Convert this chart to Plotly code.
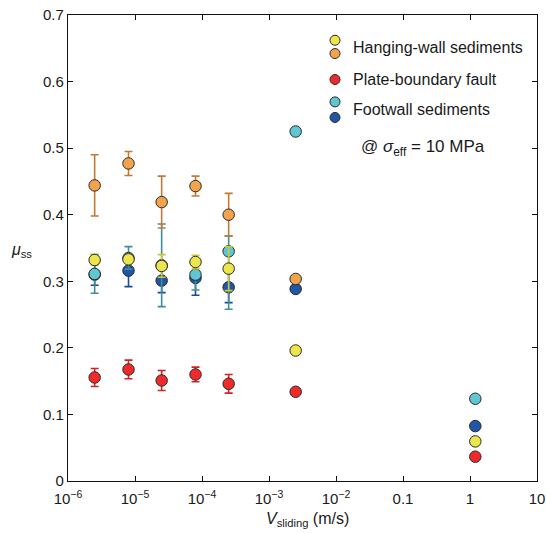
import plotly.graph_objects as go

# ---------------- data ----------------
v_low = [2.5e-6, 8e-6, 2.5e-5, 8e-5, 2.5e-4]
v_mid = 2.5e-3
v_high = 1.2

# Footwall sediments (dark blue)
fw_dark_v = v_low + [v_mid, v_high]
fw_dark_mu = [0.310, 0.316, 0.301, 0.305, 0.291, 0.2885, 0.0825]
fw_dark_ep = [0.016, 0.024, 0.018, 0.026, 0.023, 0, 0]
fw_dark_em = [0.016, 0.024, 0.018, 0.026, 0.023, 0, 0]

# Footwall sediments (light blue)
fw_light_v = v_low + [v_mid, v_high]
fw_light_mu = [0.311, 0.335, 0.324, 0.310, 0.345, 0.525, 0.1235]
fw_light_ep = [0.029, 0.017, 0.062, 0.023, 0.023, 0, 0]
fw_light_em = [0.029, 0.017, 0.062, 0.023, 0.087, 0, 0]

# Hanging-wall sediments (yellow)
hw_yel_v = v_low + [v_mid, v_high]
hw_yel_mu = [0.332, 0.333, 0.323, 0.329, 0.319, 0.196, 0.0595]
hw_yel_ep = [0.008, 0.006, 0.017, 0.010, 0.033, 0, 0]
hw_yel_em = [0.008, 0.006, 0.017, 0.010, 0.033, 0, 0]

# Hanging-wall sediments (orange)
hw_org_v = v_low + [v_mid]
hw_org_mu = [0.444, 0.477, 0.419, 0.443, 0.400, 0.3035]
hw_org_ep = [0.046, 0.018, 0.039, 0.015, 0.032, 0]
hw_org_em = [0.046, 0.018, 0.039, 0.015, 0.032, 0]

# Plate-boundary fault (red)
pbf_v = v_low + [v_mid, v_high]
pbf_mu = [0.1555, 0.1675, 0.151, 0.160, 0.146, 0.134, 0.0365]
pbf_ep = [0.0135, 0.014, 0.015, 0.011, 0.014, 0, 0]
pbf_em = [0.0135, 0.014, 0.015, 0.011, 0.014, 0, 0]

x_tickvals = [1e-6, 1e-5, 1e-4, 1e-3, 1e-2, 0.1, 1, 10]
x_ticktext = ["10<sup>−6</sup>", "10<sup>−5</sup>", "10<sup>−4</sup>", "10<sup>−3</sup>",
              "10<sup>−2</sup>", "0.1", "1", "10"]
y_tickvals = [0, 0.1, 0.2, 0.3, 0.4, 0.5, 0.6, 0.7]
y_ticktext = ["0", "0.1", "0.2", "0.3", "0.4", "0.5", "0.6", "0.7"]

legend_labels = ["Hanging-wall sediments", "Plate-boundary fault", "Footwall sediments"]

# ---------------- styles ----------------
C_YEL, C_ORG, C_RED, C_CYA, C_DBL = "#ece64a", "#f3a34c", "#ee2a2a", "#5fc6d2", "#1f57a6"
E_YEL, E_ORG, E_RED, E_CYA, E_DBL = "#cfc73a", "#c27a36", "#d42222", "#3f8e9c", "#1b4b98"
FONT = "Liberation Sans, Arial, Helvetica, sans-serif"

fig = go.Figure()

def add(xv, yv, ep, em, col, ecol):
    fig.add_trace(go.Scatter(
        x=xv, y=yv, mode="markers",
        marker=dict(size=11.5, color=col, line=dict(color="#2a2a2a", width=1)),
        error_y=dict(type="data", symmetric=False, array=ep, arrayminus=em,
                     color=ecol, thickness=1.6, width=4),
        showlegend=False, hoverinfo="x+y"))

add(fw_dark_v, fw_dark_mu, fw_dark_ep, fw_dark_em, C_DBL, E_DBL)
add(fw_light_v, fw_light_mu, fw_light_ep, fw_light_em, C_CYA, E_CYA)
add(hw_yel_v, hw_yel_mu, hw_yel_ep, hw_yel_em, C_YEL, E_YEL)
add(hw_org_v, hw_org_mu, hw_org_ep, hw_org_em, C_ORG, E_ORG)
add(pbf_v, pbf_mu, pbf_ep, pbf_em, C_RED, E_RED)

# plot area in pixels
L, R, T, B = 68, 537, 14.7, 481.3
W, H = 546, 534

def px(xp):
    return (xp - L) / (R - L)

def py(yp):
    return (B - yp) / (B - T)

# legend symbols
shapes = []
for (xx, yy, col) in [(335, 40, C_YEL), (335, 53.3, C_ORG), (335, 79.3, C_RED),
                      (335, 101.7, C_CYA), (335, 117.3, C_DBL)]:
    shapes.append(dict(type="circle", xref="paper", yref="paper",
                       xsizemode="pixel", ysizemode="pixel",
                       xanchor=px(xx), yanchor=py(yy),
                       x0=-5, x1=5, y0=-5, y1=5,
                       fillcolor=col, line=dict(color="#2a2a2a", width=1)))

annotations = []
for (txt, yy) in zip(legend_labels, [47.3, 79.3, 109.3]):
    annotations.append(dict(text=txt, xref="paper", yref="paper", x=px(351), y=py(yy),
                            xanchor="left", yanchor="middle", showarrow=False,
                            font=dict(size=16, color="#1a1a1a", family=FONT)))
annotations.append(dict(text="@ <i>σ</i><sub>eff</sub> = 10 MPa", xref="paper", yref="paper",
                        x=px(359), y=py(148.3), xanchor="left", yanchor="middle",
                        showarrow=False, font=dict(size=17, color="#1a1a1a", family=FONT)))
annotations.append(dict(text="<i>μ</i><sub>ss</sub>", xref="paper", yref="paper",
                        x=px(21), y=py(251), xanchor="center", yanchor="middle",
                        showarrow=False, font=dict(size=16, color="#1a1a1a", family=FONT)))
annotations.append(dict(text="<i>V</i><sub>sliding</sub> (m/s)", xref="paper", yref="paper",
                        x=px(307), y=py(520), xanchor="center", yanchor="middle",
                        showarrow=False, font=dict(size=16, color="#1a1a1a", family=FONT)))

axis_common = dict(showgrid=False, zeroline=False, showline=True, linecolor="#111",
                   linewidth=1.2, mirror="ticks", ticks="inside", ticklen=5,
                   tickwidth=1, tickcolor="#111", automargin=False,
                   tickfont=dict(size=15, color="#1a1a1a", family=FONT))

fig.update_layout(
    width=W, height=H,
    margin=dict(l=L, r=W - R, t=T, b=H - B, pad=0, autoexpand=False),
    paper_bgcolor="white", plot_bgcolor="white",
    xaxis=dict(type="log", range=[-6, 1], tickvals=x_tickvals, ticktext=x_ticktext,
               ticklabelstandoff=4, **axis_common),
    yaxis=dict(range=[0, 0.7], tickvals=y_tickvals, ticktext=y_ticktext, **axis_common),
    shapes=shapes, annotations=annotations,
    font=dict(family=FONT),
    showlegend=False,
)

fig.write_html("out.html")
